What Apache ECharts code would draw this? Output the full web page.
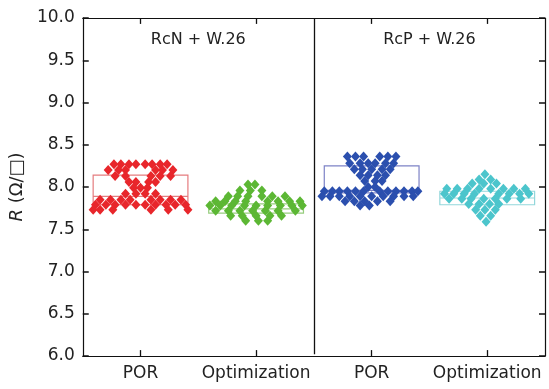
<!DOCTYPE html>
<html>
<head>
<meta charset="utf-8">
<script src="https://cdn.jsdelivr.net/npm/echarts@6/dist/echarts.min.js"></script>
<style>
  html, body { margin: 0; padding: 0; background: #fff; }
  #chart { width: 549px; height: 389px; }
</style>
</head>
<body>
<div id="chart"></div>
<script>
const categories = ['POR', 'Optimization', 'POR', 'Optimization']
const categoryCentres = [0.5, 1.5, 2.5, 3.5]
const groupLabels = ['RcN + W.26', 'RcP + W.26']
const yTicks = { min: 6, max: 10, interval: 0.5 }

// box: [min, Q1, median, Q3, max] (whiskers hidden in the original)
const boxes = [
  [7.79, 7.79, 7.89, 8.14, 8.14],
  [7.69, 7.69, 7.74, 7.80, 7.80],
  [7.93, 7.93, 7.96, 8.25, 8.25],
  [7.79, 7.79, 7.87, 7.95, 7.95]
]

// points: [offset from category centre (in categories), R value]
const rcnPor = [
  [-0.23, 8.27], [-0.17, 8.27], [-0.10, 8.27], [-0.04, 8.27], [0.04, 8.27], [0.10, 8.27], [0.17, 8.27], [0.23, 8.27],
  [-0.28, 8.20], [-0.19, 8.20], [-0.13, 8.20], [0.13, 8.20], [0.19, 8.20], [0.28, 8.20],
  [-0.22, 8.13], [-0.13, 8.13], [0.09, 8.13], [0.17, 8.13], [0.26, 8.13],
  [-0.10, 8.06], [-0.04, 8.06], [0.07, 8.06], [0.13, 8.06],
  [-0.06, 7.99], [0, 7.99], [0.06, 7.99],
  [-0.13, 7.92], [-0.04, 7.92], [0.04, 7.92], [0.13, 7.92],
  [-0.35, 7.85], [-0.26, 7.85], [-0.17, 7.85], [-0.09, 7.85], [0.09, 7.85], [0.17, 7.85], [0.26, 7.85], [0.35, 7.85],
  [-0.39, 7.79], [-0.30, 7.79], [-0.22, 7.79], [-0.13, 7.79], [-0.04, 7.79], [0.04, 7.79], [0.13, 7.79], [0.22, 7.79], [0.30, 7.79], [0.39, 7.79],
  [-0.41, 7.73], [-0.35, 7.73], [-0.24, 7.73], [0.09, 7.73], [0.24, 7.73], [0.41, 7.73]
]
const rcnOpt = [
  [-0.07, 8.03], [-0.01, 8.03],
  [-0.14, 7.96], [-0.05, 7.96], [0.05, 7.96],
  [-0.24, 7.89], [-0.16, 7.89], [-0.07, 7.89], [0.05, 7.89], [0.14, 7.89], [0.25, 7.89],
  [-0.35, 7.83], [-0.27, 7.83], [-0.18, 7.83], [-0.09, 7.83], [0.10, 7.83], [0.19, 7.83], [0.29, 7.83], [0.38, 7.83],
  [-0.40, 7.78], [-0.31, 7.78], [-0.21, 7.78], [-0.10, 7.78], [0, 7.78], [0.10, 7.78], [0.21, 7.78], [0.31, 7.78], [0.40, 7.78],
  [-0.35, 7.72], [-0.24, 7.72], [-0.14, 7.72], [-0.03, 7.72], [0.08, 7.72], [0.19, 7.72], [0.34, 7.72],
  [-0.22, 7.66], [-0.12, 7.66], [0, 7.66], [0.12, 7.66], [0.22, 7.66],
  [-0.09, 7.60], [0.02, 7.60], [0.10, 7.60]
]
const rcpPor = [
  [-0.21, 8.36], [-0.14, 8.36], [-0.07, 8.36], [0.07, 8.36], [0.14, 8.36], [0.21, 8.36],
  [-0.19, 8.28], [-0.10, 8.28], [-0.03, 8.28], [0.03, 8.28], [0.12, 8.28], [0.19, 8.28],
  [-0.15, 8.21], [-0.08, 8.21], [0, 8.21], [0.09, 8.21], [0.16, 8.21],
  [-0.10, 8.14], [-0.03, 8.14], [0.05, 8.14], [0.12, 8.14],
  [-0.06, 8.07], [0.03, 8.07], [0.09, 8.07],
  [-0.03, 8.00], [0.03, 8.00],
  [-0.41, 7.95], [-0.34, 7.95], [-0.28, 7.95], [-0.21, 7.95], [-0.14, 7.95], [-0.07, 7.95], [0.07, 7.95], [0.14, 7.95], [0.21, 7.95], [0.28, 7.95], [0.35, 7.95], [0.40, 7.95],
  [-0.43, 7.89], [-0.36, 7.89], [-0.28, 7.89], [-0.19, 7.89], [-0.10, 7.89], [0, 7.89], [0.10, 7.89], [0.19, 7.89], [0.28, 7.89], [0.36, 7.89],
  [-0.23, 7.83], [-0.15, 7.83], [-0.06, 7.83], [0.05, 7.83], [0.16, 7.83],
  [-0.10, 7.78], [-0.02, 7.78]
]
const rcpOpt = [
  [-0.02, 8.15],
  [-0.07, 8.09], [0.03, 8.09],
  [-0.13, 8.04], [-0.03, 8.04], [0.08, 8.04],
  [-0.35, 7.98], [-0.26, 7.98], [-0.17, 7.98], [-0.07, 7.98], [0.03, 7.98], [0.14, 7.98], [0.23, 7.98], [0.33, 7.98],
  [-0.37, 7.92], [-0.29, 7.92], [-0.20, 7.92], [-0.11, 7.92], [0.10, 7.92], [0.19, 7.92], [0.28, 7.92], [0.36, 7.92],
  [-0.33, 7.86], [-0.22, 7.86], [-0.14, 7.86], [-0.03, 7.86], [0.07, 7.86], [0.17, 7.86], [0.29, 7.86],
  [-0.16, 7.80], [-0.07, 7.80], [0.02, 7.80], [0.10, 7.80],
  [-0.10, 7.73], [-0.02, 7.73], [0.07, 7.73],
  [-0.06, 7.66], [0.03, 7.66],
  [-0.01, 7.59]
]

const pointSets = [rcnPor, rcnOpt, rcpPor, rcpOpt]
const pointColors = ['#e8262b', '#5cb734', '#2b4fae', '#4cc5cc']
const boxColors = ['#e57c7f', '#96cd7d', '#7d82c6', '#93d7db']

const font = 'DejaVu Sans, sans-serif'
const chart = echarts.init(document.getElementById('chart'))

const series = []
// one boxplot series on the hidden category axis, colour per item
series.push({
  type: 'boxplot',
  xAxisIndex: 2,
  yAxisIndex: 0,
  boxWidth: ['82%', '82%'],
  silent: true,
  itemStyle: { color: 'transparent', borderWidth: 1.2 },
  data: boxes.map((b, i) => ({
    value: b,
    itemStyle: { color: 'transparent', borderColor: boxColors[i], borderWidth: 1.2 }
  }))
})
pointSets.forEach((pts, i) => {
  series.push({
    type: 'scatter',
    xAxisIndex: 0,
    yAxisIndex: 0,
    symbol: 'diamond',
    symbolSize: [9, 10],
    itemStyle: { color: pointColors[i], opacity: 1 },
    data: pts.map((p) => [categoryCentres[i] + p[0], p[1]])
  })
})

// category ticks (bottom and top edge, pointing inwards) + group divider
const tickLen = 0.07
const frameLines = [[{ coord: [2, 6.02] }, { coord: [2, 10] }]]
categoryCentres.forEach((c) => {
  frameLines.push([{ coord: [c, yTicks.min] }, { coord: [c, yTicks.min + tickLen] }])
  frameLines.push([{ coord: [c, yTicks.max] }, { coord: [c, yTicks.max - tickLen] }])
})

series.push({
  type: 'scatter',
  xAxisIndex: 0,
  yAxisIndex: 0,
  data: [],
  markLine: {
    silent: true,
    symbol: 'none',
    label: { show: false },
    lineStyle: { color: '#111', width: 1.3, type: 'solid' },
    data: frameLines
  },
  markPoint: {
    silent: true,
    symbol: 'rect',
    symbolSize: 0,
    label: {
      show: true,
      position: 'inside',
      color: '#222',
      fontSize: 16,
      fontFamily: font,
      formatter: (p) => p.name
    },
    data: [
      { name: groupLabels[0], coord: [1, 9.74] },
      { name: groupLabels[1], coord: [3, 9.74] }
    ]
  }
})

function tickStyle() {
  return { show: true, inside: true, length: 6, lineStyle: { color: '#111', width: 1.5 } }
}
function lineStyle() {
  return { show: true, onZero: false, lineStyle: { color: '#111', width: 1.2 } }
}

chart.setOption({
  animation: false,
  grid: { left: 82, right: 4, top: 18, bottom: 33 },
  xAxis: [
    {
      type: 'value',
      position: 'bottom',
      min: 0,
      max: 4,
      interval: 0.5,
      splitLine: { show: false },
      axisLine: lineStyle(),
      axisTick: { show: false },
      axisLabel: {
        customValues: categoryCentres,
        color: '#222',
        fontSize: 17,
        fontFamily: font,
        margin: 9,
        formatter: (v) => categories[Math.floor(v)]
      }
    },
    {
      type: 'value',
      position: 'top',
      min: 0,
      max: 4,
      interval: 0.5,
      splitLine: { show: false },
      axisLine: lineStyle(),
      axisTick: { show: false },
      axisLabel: { show: false }
    },
    { type: 'category', data: categories, show: false, position: 'bottom' }
  ],
  yAxis: [
    {
      type: 'value',
      min: yTicks.min,
      max: yTicks.max,
      interval: yTicks.interval,
      position: 'left',
      axisLine: lineStyle(),
      axisTick: tickStyle(),
      splitLine: { show: false },
      axisLabel: {
        color: '#222',
        fontSize: 17,
        fontFamily: font,
        margin: 8,
        formatter: (v) => v.toFixed(1)
      },
      name: '{i|R} (Ω/□)',
      nameLocation: 'middle',
      nameGap: 46,
      nameTextStyle: {
        color: '#222',
        fontSize: 18,
        fontFamily: font,
        rich: { i: { fontStyle: 'italic', fontSize: 18, fontFamily: font, color: '#222' } }
      }
    },
    {
      type: 'value',
      min: yTicks.min,
      max: yTicks.max,
      interval: yTicks.interval,
      position: 'right',
      axisLine: lineStyle(),
      axisTick: tickStyle(),
      splitLine: { show: false },
      axisLabel: { show: false }
    }
  ],
  series: series
})
</script>
</body>
</html>
